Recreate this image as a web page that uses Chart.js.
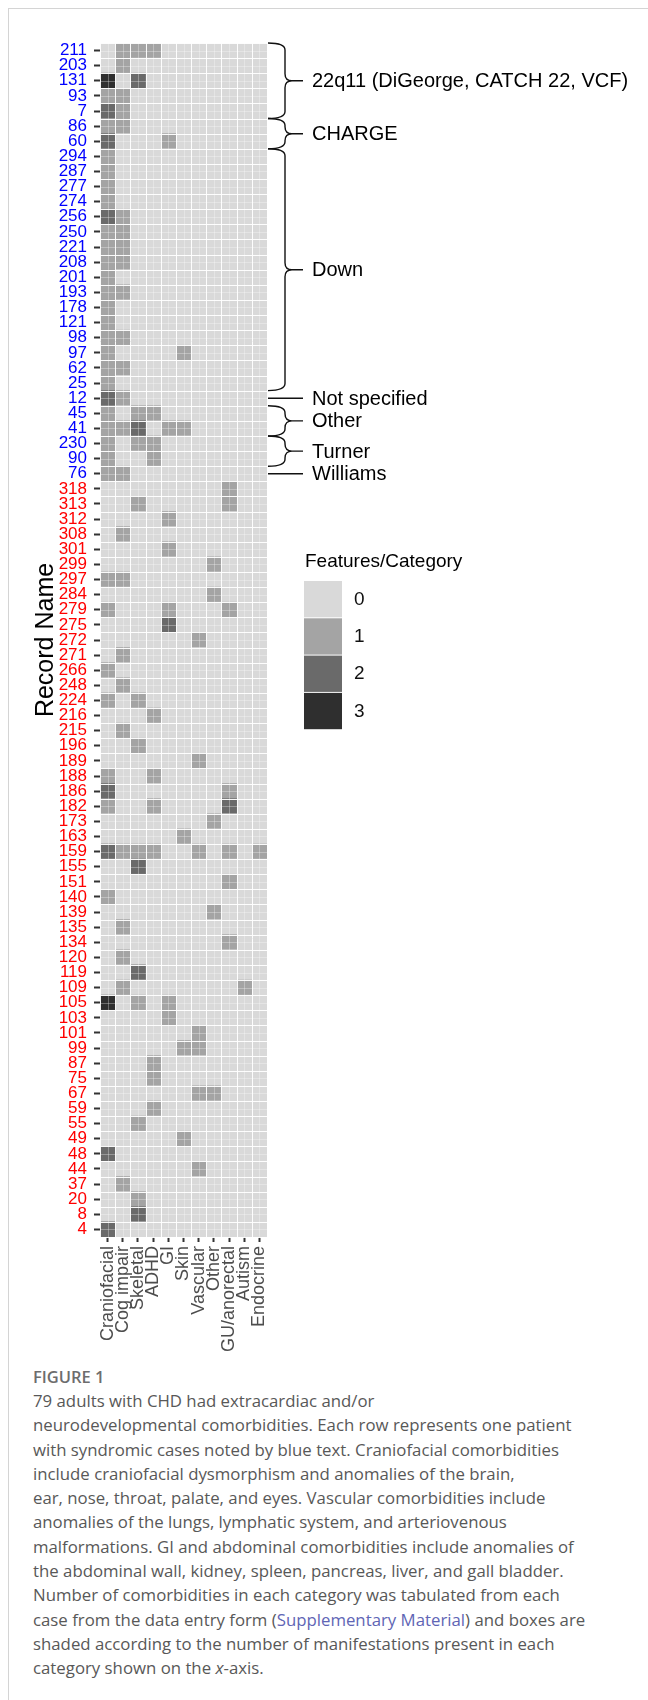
<!DOCTYPE html>
<html>
<head>
<meta charset="utf-8">
<title>Comorbidities heatmap</title>
<script src="https://cdn.jsdelivr.net/npm/chart.js@4.4.1/dist/chart.umd.min.js"></script>
<style>
    body { margin: 0; background: #fff; width: 648px; height: 1700px; position: relative; overflow: hidden; }
    #frame { position: absolute; left: 8px; top: 8px; width: 660px; height: 1720px; border-left: 1px solid #d4d4d4; border-top: 1px solid #d4d4d4; }
    #chartBox { position: absolute; left: 0; top: 0; }
    #figLabel { position: absolute; left: 33px; top: 1366px; font-family: 'Open Sans', Lato, sans-serif; font-weight: 600; font-size: 16.5px; line-height: 22px; color: #6d6d6d; }
    #caption { position: absolute; left: 33px; top: 1389px; font-family: 'Open Sans', Lato, sans-serif; font-size: 16.8px; line-height: 24.3px; color: #585858; }
    #caption div { white-space: nowrap; }
    #caption .link { color: #6065b5; }
</style>
</head>
<body>
<div id="frame"></div>
<div id="chartBox"><canvas id="heatmap" width="648" height="1360"></canvas></div>
<div id="figLabel">FIGURE 1</div>
<div id="caption">
    <div>79 adults with CHD had extracardiac and/or</div>
    <div>neurodevelopmental comorbidities. Each row represents one patient</div>
    <div>with syndromic cases noted by blue text. Craniofacial comorbidities</div>
    <div>include craniofacial dysmorphism and anomalies of the brain,</div>
    <div>ear, nose, throat, palate, and eyes. Vascular comorbidities include</div>
    <div>anomalies of the lungs, lymphatic system, and arteriovenous</div>
    <div>malformations. GI and abdominal comorbidities include anomalies of</div>
    <div>the abdominal wall, kidney, spleen, pancreas, liver, and gall bladder.</div>
    <div>Number of comorbidities in each category was tabulated from each</div>
    <div>case from the data entry form (<span class="link">Supplementary Material</span>) and boxes are</div>
    <div>shaded according to the number of manifestations present in each</div>
    <div>category shown on the <i>x</i>-axis.</div>
</div>
<script>
// ===== Datos =====
const categories = ['Craniofacial', 'Cog impair', 'Skeletal', 'ADHD', 'GI', 'Skin',
    'Vascular', 'Other', 'GU/anorectal', 'Autism', 'Endocrine'];

const recordNames = ['211', '203', '131', '93', '7', '86', '60', '294', '287', '277',
    '274', '256', '250', '221', '208', '201', '193', '178', '121', '98', '97', '62',
    '25', '12', '45', '41', '230', '90', '76', '318', '313', '312', '308', '301',
    '299', '297', '284', '279', '275', '272', '271', '266', '248', '224', '216',
    '215', '196', '189', '188', '186', '182', '173', '163', '159', '155', '151',
    '140', '139', '135', '134', '120', '119', '109', '105', '103', '101', '99', '87',
    '75', '67', '59', '55', '49', '48', '44', '37', '20', '8', '4'];

// one row per record, one value per category (number of features)
const counts = [
    [0, 1, 1, 1, 0, 0, 0, 0, 0, 0, 0], // 211
    [0, 1, 0, 0, 0, 0, 0, 0, 0, 0, 0], // 203
    [3, 0, 2, 0, 0, 0, 0, 0, 0, 0, 0], // 131
    [1, 1, 0, 0, 0, 0, 0, 0, 0, 0, 0], // 93
    [2, 1, 0, 0, 0, 0, 0, 0, 0, 0, 0], // 7
    [1, 1, 0, 0, 0, 0, 0, 0, 0, 0, 0], // 86
    [2, 0, 0, 0, 1, 0, 0, 0, 0, 0, 0], // 60
    [1, 0, 0, 0, 0, 0, 0, 0, 0, 0, 0], // 294
    [1, 0, 0, 0, 0, 0, 0, 0, 0, 0, 0], // 287
    [1, 0, 0, 0, 0, 0, 0, 0, 0, 0, 0], // 277
    [1, 0, 0, 0, 0, 0, 0, 0, 0, 0, 0], // 274
    [2, 1, 0, 0, 0, 0, 0, 0, 0, 0, 0], // 256
    [1, 1, 0, 0, 0, 0, 0, 0, 0, 0, 0], // 250
    [1, 1, 0, 0, 0, 0, 0, 0, 0, 0, 0], // 221
    [1, 1, 0, 0, 0, 0, 0, 0, 0, 0, 0], // 208
    [1, 0, 0, 0, 0, 0, 0, 0, 0, 0, 0], // 201
    [1, 1, 0, 0, 0, 0, 0, 0, 0, 0, 0], // 193
    [1, 0, 0, 0, 0, 0, 0, 0, 0, 0, 0], // 178
    [1, 0, 0, 0, 0, 0, 0, 0, 0, 0, 0], // 121
    [1, 1, 0, 0, 0, 0, 0, 0, 0, 0, 0], // 98
    [1, 0, 0, 0, 0, 1, 0, 0, 0, 0, 0], // 97
    [1, 1, 0, 0, 0, 0, 0, 0, 0, 0, 0], // 62
    [1, 0, 0, 0, 0, 0, 0, 0, 0, 0, 0], // 25
    [2, 1, 0, 0, 0, 0, 0, 0, 0, 0, 0], // 12
    [1, 0, 1, 1, 0, 0, 0, 0, 0, 0, 0], // 45
    [1, 1, 2, 0, 1, 1, 0, 0, 0, 0, 0], // 41
    [1, 0, 1, 1, 0, 0, 0, 0, 0, 0, 0], // 230
    [1, 0, 0, 1, 0, 0, 0, 0, 0, 0, 0], // 90
    [1, 1, 0, 0, 0, 0, 0, 0, 0, 0, 0], // 76
    [0, 0, 0, 0, 0, 0, 0, 0, 1, 0, 0], // 318
    [0, 0, 1, 0, 0, 0, 0, 0, 1, 0, 0], // 313
    [0, 0, 0, 0, 1, 0, 0, 0, 0, 0, 0], // 312
    [0, 1, 0, 0, 0, 0, 0, 0, 0, 0, 0], // 308
    [0, 0, 0, 0, 1, 0, 0, 0, 0, 0, 0], // 301
    [0, 0, 0, 0, 0, 0, 0, 1, 0, 0, 0], // 299
    [1, 1, 0, 0, 0, 0, 0, 0, 0, 0, 0], // 297
    [0, 0, 0, 0, 0, 0, 0, 1, 0, 0, 0], // 284
    [1, 0, 0, 0, 1, 0, 0, 0, 1, 0, 0], // 279
    [0, 0, 0, 0, 2, 0, 0, 0, 0, 0, 0], // 275
    [0, 0, 0, 0, 0, 0, 1, 0, 0, 0, 0], // 272
    [0, 1, 0, 0, 0, 0, 0, 0, 0, 0, 0], // 271
    [1, 0, 0, 0, 0, 0, 0, 0, 0, 0, 0], // 266
    [0, 1, 0, 0, 0, 0, 0, 0, 0, 0, 0], // 248
    [1, 0, 1, 0, 0, 0, 0, 0, 0, 0, 0], // 224
    [0, 0, 0, 1, 0, 0, 0, 0, 0, 0, 0], // 216
    [0, 1, 0, 0, 0, 0, 0, 0, 0, 0, 0], // 215
    [0, 0, 1, 0, 0, 0, 0, 0, 0, 0, 0], // 196
    [0, 0, 0, 0, 0, 0, 1, 0, 0, 0, 0], // 189
    [1, 0, 0, 1, 0, 0, 0, 0, 0, 0, 0], // 188
    [2, 0, 0, 0, 0, 0, 0, 0, 1, 0, 0], // 186
    [1, 0, 0, 1, 0, 0, 0, 0, 2, 0, 0], // 182
    [0, 0, 0, 0, 0, 0, 0, 1, 0, 0, 0], // 173
    [0, 0, 0, 0, 0, 1, 0, 0, 0, 0, 0], // 163
    [2, 1, 1, 1, 0, 0, 1, 0, 1, 0, 1], // 159
    [0, 0, 2, 0, 0, 0, 0, 0, 0, 0, 0], // 155
    [0, 0, 0, 0, 0, 0, 0, 0, 1, 0, 0], // 151
    [1, 0, 0, 0, 0, 0, 0, 0, 0, 0, 0], // 140
    [0, 0, 0, 0, 0, 0, 0, 1, 0, 0, 0], // 139
    [0, 1, 0, 0, 0, 0, 0, 0, 0, 0, 0], // 135
    [0, 0, 0, 0, 0, 0, 0, 0, 1, 0, 0], // 134
    [0, 1, 0, 0, 0, 0, 0, 0, 0, 0, 0], // 120
    [0, 0, 2, 0, 0, 0, 0, 0, 0, 0, 0], // 119
    [0, 1, 0, 0, 0, 0, 0, 0, 0, 1, 0], // 109
    [3, 0, 1, 0, 1, 0, 0, 0, 0, 0, 0], // 105
    [0, 0, 0, 0, 1, 0, 0, 0, 0, 0, 0], // 103
    [0, 0, 0, 0, 0, 0, 1, 0, 0, 0, 0], // 101
    [0, 0, 0, 0, 0, 1, 1, 0, 0, 0, 0], // 99
    [0, 0, 0, 1, 0, 0, 0, 0, 0, 0, 0], // 87
    [0, 0, 0, 1, 0, 0, 0, 0, 0, 0, 0], // 75
    [0, 0, 0, 0, 0, 0, 1, 1, 0, 0, 0], // 67
    [0, 0, 0, 1, 0, 0, 0, 0, 0, 0, 0], // 59
    [0, 0, 1, 0, 0, 0, 0, 0, 0, 0, 0], // 55
    [0, 0, 0, 0, 0, 1, 0, 0, 0, 0, 0], // 49
    [2, 0, 0, 0, 0, 0, 0, 0, 0, 0, 0], // 48
    [0, 0, 0, 0, 0, 0, 1, 0, 0, 0, 0], // 44
    [0, 1, 0, 0, 0, 0, 0, 0, 0, 0, 0], // 37
    [0, 0, 1, 0, 0, 0, 0, 0, 0, 0, 0], // 20
    [0, 0, 2, 0, 0, 0, 0, 0, 0, 0, 0], // 8
    [2, 0, 0, 0, 0, 0, 0, 0, 0, 0, 0]  // 4
];

// syndrome groups (in row order, from the top)
const groupNames = ['22q11 (DiGeorge, CATCH 22, VCF)', 'CHARGE', 'Down', 'Not specified',
    'Other', 'Turner', 'Williams'];
const groupSizes = [5, 2, 16, 1, 2, 2, 1];

const levels = [0, 1, 2, 3];
const levelColors = ['#d9d9d9', '#a4a4a4', '#6a6a6a', '#2f2f2f'];

const fontFamily = "'Liberation Sans', Arial, Helvetica, sans-serif";
const syndromicCount = groupSizes.reduce((a, b) => a + b, 0);

// ===== Plugin: líneas blancas, llaves y leyenda =====
const decorations = {
    id: 'decorations',
    afterDatasetsDraw(chart) {
        const { ctx, chartArea, scales: { x, y } } = chart;
        const rowH = y.getPixelForValue(1) - y.getPixelForValue(0);
        ctx.save();
        // faint lines in the middle of each cell
        ctx.strokeStyle = 'rgba(255,255,255,0.3)';
        ctx.lineWidth = 1;
        ctx.beginPath();
        categories.forEach((_, c) => {
            const px = Math.round(x.getPixelForValue(c)) + 0.5;
            ctx.moveTo(px, chartArea.top); ctx.lineTo(px, chartArea.bottom);
        });
        recordNames.forEach((_, r) => {
            const py = Math.round(y.getPixelForValue(r)) + 0.5;
            ctx.moveTo(chartArea.left, py); ctx.lineTo(chartArea.right, py);
        });
        ctx.stroke();
        // white borders between cells
        ctx.strokeStyle = 'rgba(255,255,255,0.95)';
        ctx.beginPath();
        for (let c = 0; c <= categories.length; c++) {
            const px = Math.round(x.getPixelForValue(c - 0.5)) + 0.5;
            ctx.moveTo(px, chartArea.top); ctx.lineTo(px, chartArea.bottom);
        }
        for (let r = 0; r <= recordNames.length; r++) {
            const py = Math.round(y.getPixelForValue(r) - rowH / 2) + 0.5;
            ctx.moveTo(chartArea.left, py); ctx.lineTo(chartArea.right, py);
        }
        ctx.stroke();
        ctx.restore();
    },
    afterDraw(chart) {
        const { ctx, chartArea, scales: { y } } = chart;
        const rowH = y.getPixelForValue(1) - y.getPixelForValue(0);
        const x0 = chartArea.right + 1, x1 = chartArea.right + 18, x2 = chartArea.right + 36;
        ctx.save();
        ctx.strokeStyle = '#111';
        ctx.lineWidth = 1.4;
        ctx.fillStyle = '#000';
        ctx.font = '20px ' + fontFamily;
        ctx.textBaseline = 'middle';
        ctx.textAlign = 'left';

        let start = 0;
        groupNames.forEach((name, g) => {
            const n = groupSizes[g];
            const top = y.getPixelForValue(start) - rowH / 2;
            const bot = y.getPixelForValue(start + n - 1) + rowH / 2;
            const mid = (top + bot) / 2;
            ctx.beginPath();
            if (n === 1) {
                ctx.moveTo(x0, mid);
                ctx.lineTo(x2, mid);
            } else {
                const r = Math.min(7, (bot - top) / 4);
                ctx.moveTo(x0, top);
                ctx.quadraticCurveTo(x1, top, x1, top + r);
                ctx.lineTo(x1, mid - r);
                ctx.quadraticCurveTo(x1, mid, x1 + r, mid);
                ctx.lineTo(x2, mid);
                ctx.moveTo(x1 + r, mid);
                ctx.quadraticCurveTo(x1, mid, x1, mid + r);
                ctx.lineTo(x1, bot - r);
                ctx.quadraticCurveTo(x1, bot, x0, bot);
            }
            ctx.stroke();
            ctx.fillText(name, x2 + 9, mid + 1);
            start += n;
        });

        // ===== Leyenda =====
        const lx = 304, ly = 581, kw = 38, kh = 37.3;
        ctx.font = '19px ' + fontFamily;
        ctx.textBaseline = 'alphabetic';
        ctx.fillText('Features/Category', 305, 567);
        ctx.textBaseline = 'middle';
        levels.forEach((lv, i) => {
            ctx.fillStyle = levelColors[i];
            ctx.fillRect(lx, ly + i * kh, kw, kh - 1);
            ctx.fillStyle = '#111';
            ctx.fillText(String(lv), lx + 50, ly + i * kh + kh / 2);
        });
        ctx.restore();
    }
};

// ===== Gráfico =====
const datasets = categories.map((cat, c) => ({
    label: cat,
    data: recordNames.map(() => [c - 0.5, c + 0.5]),
    backgroundColor: counts.map(row => levelColors[row[c]]),
    borderWidth: 0,
    barPercentage: 1,
    categoryPercentage: 1,
    grouped: false
}));

const ctxHeat = document.getElementById('heatmap').getContext('2d');
new Chart(ctxHeat, {
    type: 'bar',
    data: { labels: recordNames, datasets: datasets },
    options: {
        indexAxis: 'y',
        responsive: false,
        animation: false,
        layout: { padding: { left: 0, top: 43, right: 381, bottom: 0 } },
        plugins: { legend: { display: false }, tooltip: { enabled: false } },
        scales: {
            x: {
                type: 'linear',
                min: -0.5,
                max: 10.5,
                afterBuildTicks: (scale) => { scale.ticks = categories.map((_, i) => ({ value: i })); },
                afterFit: (scale) => { scale.height = 123; },
                ticks: {
                    autoSkip: false,
                    minRotation: 90,
                    maxRotation: 90,
                    padding: 4,
                    color: '#4d4d4d',
                    font: { size: 18, family: fontFamily },
                    callback: (value, index) => categories[index]
                },
                grid: { drawOnChartArea: false, drawTicks: true, tickLength: 5, tickWidth: 2, tickColor: '#333', offset: false },
                border: { display: false }
            },
            y: {
                type: 'category',
                offset: true,
                afterFit: (scale) => { scale.width = 100; },
                ticks: {
                    autoSkip: false,
                    padding: 7,
                    color: (ctx) => ctx.index < syndromicCount ? '#0000ff' : '#ff0000',
                    font: { size: 17, family: fontFamily }
                },
                grid: { drawOnChartArea: false, offset: false, tickLength: 6, tickWidth: 2, tickColor: '#333' },
                border: { display: false },
                title: {
                    display: true,
                    text: 'Record Name',
                    color: '#000',
                    font: { size: 25, family: fontFamily },
                    padding: { top: 31, bottom: 0 }
                }
            }
        }
    },
    plugins: [decorations]
});
</script>
</body>
</html>
